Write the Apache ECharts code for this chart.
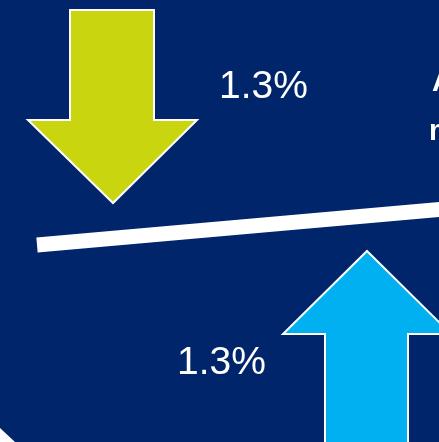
<!DOCTYPE html>
<html>
<head>
<meta charset="utf-8">
<style>
html,body{margin:0;padding:0;background:#ffffff;}
#chart{width:439px;height:442px;}
</style>
<script src="https://cdn.jsdelivr.net/npm/echarts@6/dist/echarts.min.js"></script>
</head>
<body>
<div id="chart"></div>
<script>
// Values shown on the infographic
var changeDirections = ['down', 'up'];
var changeValues = [1.3, 1.3];
var changeLabels = changeValues.map(function (v) { return v.toFixed(1) + '%'; });
var sideTitleLines = ['Average', 'mortgage'];

var NAVY = '#01256B';
var LIME = '#C8D50F';
var CYAN = '#00B0F0';

var chart = echarts.init(document.getElementById('chart'), null, { renderer: 'canvas' });

var option = {
  backgroundColor: '#ffffff',
  animation: false,
  graphic: [
    {
      type: 'polygon', z: 0,
      shape: { points: [[0, 0], [439, 0], [439, 442], [15, 442], [0, 428]] },
      style: { fill: NAVY }
    },
    {
      type: 'polygon', z: 2,
      shape: { points: [[70, 10], [154, 10], [154, 120], [197, 120], [113, 203], [28, 120], [70, 120]] },
      style: { fill: LIME, stroke: '#ffffff', lineWidth: 2, lineJoin: 'miter' }
    },
    {
      type: 'polygon', z: 2,
      shape: { points: [[367, 251], [451, 334], [408, 334], [408, 460], [325, 460], [325, 334], [283, 334]] },
      style: { fill: CYAN, stroke: '#ffffff', lineWidth: 2, lineJoin: 'miter' }
    },
    {
      type: 'line', z: 3,
      shape: { x1: 37, y1: 245, x2: 445, y2: 209 },
      style: { stroke: '#ffffff', lineWidth: 15, lineCap: 'butt' }
    },
    {
      type: 'text', z: 4, left: 219, top: 68,
      style: { text: changeLabels[0], fill: '#ffffff', font: '39px "Liberation Sans", Arial, sans-serif' }
    },
    {
      type: 'text', z: 4, left: 177, top: 344,
      style: { text: changeLabels[1], fill: '#ffffff', font: '39px "Liberation Sans", Arial, sans-serif' }
    },
    {
      type: 'text', z: 4, x: 432, y: 68,
      style: { text: sideTitleLines[0], fill: '#ffffff', font: 'bold 29px "Liberation Sans", Arial, sans-serif' }
    },
    {
      type: 'text', z: 4, x: 429, y: 117,
      style: { text: sideTitleLines[1], fill: '#ffffff', font: 'bold 29px "Liberation Sans", Arial, sans-serif' }
    }
  ]
};
chart.setOption(option);
</script>
</body>
</html>
